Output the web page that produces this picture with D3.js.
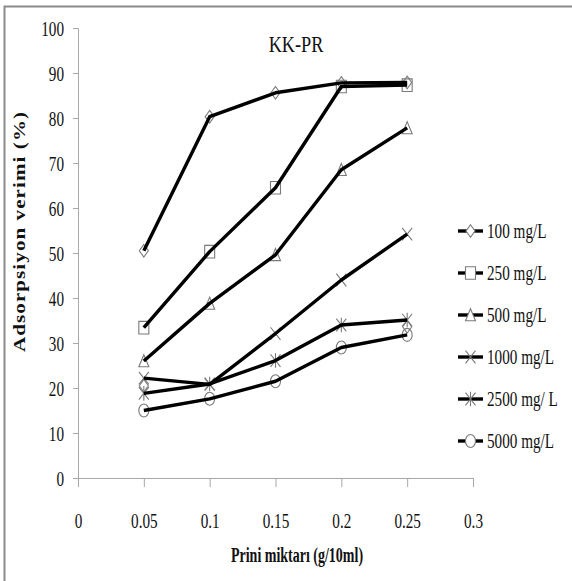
<!DOCTYPE html>
<html>
<head>
<meta charset="utf-8">
<script src="https://cdn.jsdelivr.net/npm/d3@7"></script>
<style>
  html, body { margin: 0; padding: 0; background: #fff; }
  svg { display: block; }
  svg text { font-family: "Liberation Serif", "DejaVu Serif", serif; }
</style>
</head>
<body>
<svg id="chart" width="572" height="581"></svg>
<script>
// Prini dose (g/10ml) on the x axis
const doses = [0.05, 0.1, 0.15, 0.2, 0.25];

// Adsorption efficiency (%) for each initial concentration
const s100  = [50.5, 80.3, 85.6, 87.8, 87.9];
const s250  = [33.4, 50.3, 64.5, 87.0, 87.3];
const s500  = [26.0, 38.8, 49.6, 68.5, 77.8];
const s1000 = [22.2, 20.8, 32.1, 44.0, 54.2];
const s2500 = [18.8, 20.9, 26.1, 34.0, 35.1];
const s5000 = [15.0, 17.6, 21.5, 29.0, 31.8];

const seriesNames = ["100 mg/L", "250 mg/L", "500 mg/L", "1000 mg/L", "2500 mg/ L", "5000 mg/L"];
const seriesValues = [s100, s250, s500, s1000, s2500, s5000];
const seriesMarkers = ["diamond", "square", "triangle", "x", "asterisk", "circle"];

// loose marker glyphs with no connecting line
const strayX = [0.05, 0.25];
const strayY = [20.5, 33.6];

const xTicks = [0, 0.05, 0.1, 0.15, 0.2, 0.25, 0.3];
const yTicks = [0, 10, 20, 30, 40, 50, 60, 70, 80, 90, 100];

const chartTitle = "KK-PR";
const xTitle = "Prini miktarı (g/10ml)";
const yTitle = "Adsorpsiyon verimi (%)";

const SX = 0.76;              // horizontal squeeze of the serif lettering

const svg = d3.select("#chart");

// outer frame
svg.append("rect")
  .attr("x", 4.5).attr("y", 6.5)
  .attr("width", 600).attr("height", 600)
  .attr("fill", "none").attr("stroke", "#8a8a8a").attr("stroke-width", 2);

const x = d3.scaleLinear().domain([0, 0.3]).range([78, 473]);
const y = d3.scaleLinear().domain([0, 100]).range([478, 28]);

const axisColor = "#a8a8a8";

// y axis
const gy = svg.append("g").attr("transform", `translate(${x(0)},0)`)
  .call(d3.axisLeft(y).tickValues(yTicks).tickSize(5).tickFormat(d3.format("d")));
gy.attr("font-family", null);
gy.select(".domain").attr("stroke", axisColor);
gy.selectAll(".tick line").attr("stroke", axisColor);
gy.selectAll(".tick text")
  .attr("x", null).attr("dy", null)
  .attr("transform", `translate(-14,7) scale(${SX},1)`)
  .attr("text-anchor", "end")
  .attr("font-size", 20).attr("fill", "#111");

// x axis
const gx = svg.append("g").attr("transform", `translate(0,${y(0)})`)
  .call(d3.axisBottom(x).tickValues(xTicks).tickSize(9).tickFormat(d => d3.format("")(+d.toFixed(2))));
gx.attr("font-family", null);
gx.select(".domain").attr("stroke", axisColor);
gx.selectAll(".tick line").attr("stroke", axisColor);
gx.selectAll(".tick text")
  .attr("y", null).attr("dy", null)
  .attr("transform", `translate(0,50) scale(${SX},1)`)
  .attr("text-anchor", "middle")
  .attr("font-size", 20).attr("fill", "#111");

// titles
svg.append("text")
  .attr("transform", `translate(296,52) scale(${SX},1)`)
  .attr("text-anchor", "middle")
  .attr("font-size", 24).attr("fill", "#111")
  .text(chartTitle);

svg.append("text")
  .attr("transform", `translate(297,562) scale(0.7,1)`)
  .attr("text-anchor", "middle")
  .attr("font-size", 20).attr("font-weight", "bold").attr("fill", "#111")
  .text(xTitle);

svg.append("text")
  .attr("transform", `translate(25,232) scale(${SX},1) rotate(-90)`)
  .attr("text-anchor", "middle")
  .attr("font-size", 21).attr("font-weight", "bold").attr("fill", "#111")
  .attr("textLength", 240).attr("lengthAdjust", "spacing")
  .text(yTitle);

// marker glyph paths, centred on the origin
function glyph(kind) {
  const w = 5, h = 6.3;
  switch (kind) {
    case "diamond":  return `M0,${-h}L${w - 0.5},0L0,${h}L${-w + 0.5},0Z`;
    case "square":   return `M${-w},${-h}H${w}V${h}H${-w}Z`;
    case "triangle": return `M0,${-h}L${w},${h - 0.5}H${-w}Z`;
    case "x":        return `M${-w},${-h}L${w},${h}M${w},${-h}L${-w},${h}`;
    case "asterisk": return `M${-w},${-h}L${w},${h}M${w},${-h}L${-w},${h}M0,${-h - 1}V${h + 1}`;
    case "circle":   return `M${w},0A${w},${h + 0.2} 0 1,1 ${-w},0A${w},${h + 0.2} 0 1,1 ${w},0Z`;
  }
}

const markerStroke = "#7a7a7a";
const plot = svg.append("g");

const line = d3.line().x((d, i) => x(doses[i])).y(d => y(d));

// markers first, the heavy lines are drawn over them
seriesValues.forEach((vals, k) => {
  plot.append("g").selectAll("path")
    .data(vals).join("path")
    .attr("transform", (d, i) => `translate(${x(doses[i])},${y(d)})`)
    .attr("d", glyph(seriesMarkers[k]))
    .attr("fill", "none").attr("stroke", markerStroke).attr("stroke-width", 1.1);
});
plot.append("g").selectAll("path")
  .data(strayY).join("path")
  .attr("transform", (d, i) => `translate(${x(strayX[i])},${y(d)})`)
  .attr("d", glyph("diamond"))
  .attr("fill", "none").attr("stroke", markerStroke).attr("stroke-width", 1.1);

seriesValues.forEach(vals => {
  plot.append("path")
    .attr("d", line(vals))
    .attr("fill", "none").attr("stroke", "#000")
    .attr("stroke-width", 3.4).attr("stroke-linejoin", "round");
});

// legend
const legendRows = [231, 273, 315, 357, 399, 441];
const legend = svg.append("g");
seriesNames.forEach((name, k) => {
  const ry = legendRows[k];
  legend.append("line")
    .attr("x1", 458).attr("x2", 483).attr("y1", ry).attr("y2", ry)
    .attr("stroke", "#000").attr("stroke-width", 3.4);
  legend.append("path")
    .attr("transform", `translate(470.5,${ry})`)
    .attr("d", glyph(seriesMarkers[k]))
    .attr("fill", "#fff").attr("stroke", markerStroke).attr("stroke-width", 1.1);
  legend.append("text")
    .attr("transform", `translate(487,${ry + 7}) scale(${SX},1)`)
    .attr("font-size", 20).attr("fill", "#111")
    .text(name);
});
</script>
</body>
</html>
